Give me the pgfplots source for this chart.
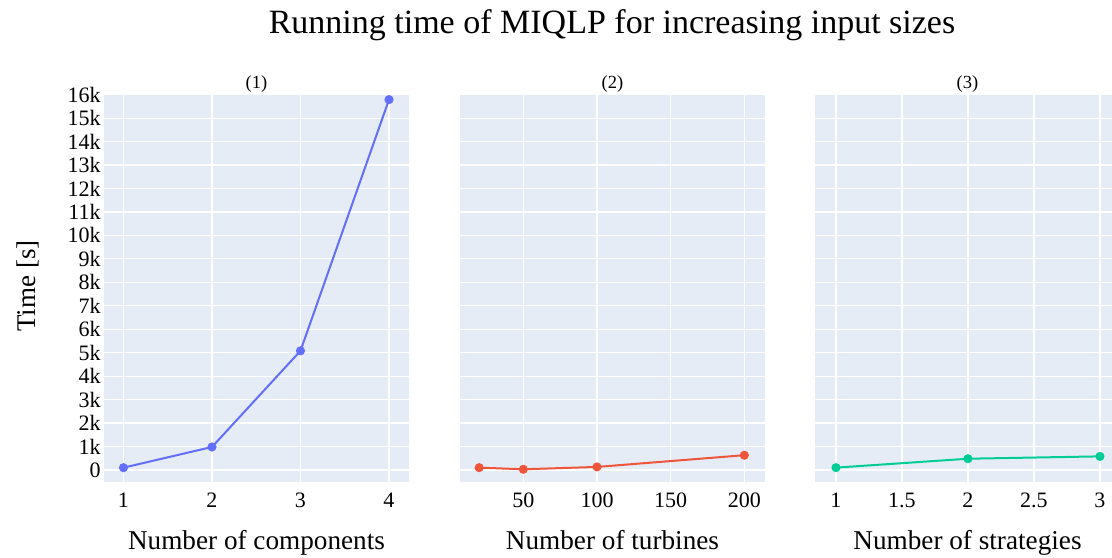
\documentclass[border=0pt]{standalone}
\usepackage{fontspec}
\setmainfont{Liberation Serif}
\usepackage{pgfplots}
\pgfplotsset{compat=1.18}
\definecolor{pbg}{HTML}{E5ECF6}
\definecolor{c1}{HTML}{636EFA}
\definecolor{c2}{HTML}{EF553B}
\definecolor{c3}{HTML}{00CC96}
\pgfplotsset{
 panel/.style={
  scale only axis, width=152.5pt, height=194.1pt,
  anchor=north west,
  ymin=-500, ymax=16050,
  scaled y ticks=false, scaled x ticks=false,
  /pgf/number format/assume math mode=true,
  axis background/.style={fill=pbg},
  axis line style={draw=none},
  major tick length=0pt,
  grid=major, grid style={white, line width=0.6pt},
  ytick={0,1000,...,16000},
  extra y ticks={0}, extra y tick labels={},
  extra y tick style={grid style={white, line width=1.1pt}},
  tick label style={font=\rmfamily\fontsize{11}{13}\selectfont},
  yticklabel style={anchor=east, inner sep=0pt, xshift=-1.5pt},
  xticklabel style={anchor=base, inner sep=0pt, yshift=-12.65pt},
  xlabel style={font=\rmfamily\fontsize{13.6}{16}\selectfont, at={(axis description cs:0.5,0)}, anchor=base, yshift=-34pt, inner sep=0pt},
  title style={font=\rmfamily\fontsize{9.25}{11}\selectfont, at={(axis description cs:0.5,1)}, anchor=base, yshift=-3.7pt, inner sep=0pt},
  clip mode=individual,
 },
 ser/.style={line width=1pt, mark=*, mark size=1.75pt, color=#1, mark options={fill=#1, draw=#1}},
}
\begin{document}
\begin{tikzpicture}
\path[use as bounding box] (0,0) rectangle (556pt,-278.5pt);
\clip (0,0) rectangle (556pt,-278.5pt);
\node[anchor=base, font=\rmfamily\fontsize{17}{20}\selectfont] at (306pt,-16.75pt) {Running time of MIQLP for increasing input sizes};
\node[rotate=90, anchor=base, font=\rmfamily\fontsize{13.5}{16}\selectfont] at (17.5pt,-143pt) {Time [s]};

\begin{axis}[panel, at={(52pt,-46.75pt)},
  xmin=0.78, xmax=4.226,
  xtick={1,2,3,4}, xticklabels={1,2,3,4},
  yticklabels={0,1k,2k,3k,4k,5k,6k,7k,8k,9k,10k,11k,12k,13k,14k,15k,16k},
  xlabel={Number of components}, title={(1)}]
\addplot[ser=c1] coordinates {(1,98) (2,980) (3,5080) (4,15790)};
\end{axis}

\begin{axis}[panel, at={(230pt,-46.75pt)},
  xmin=7, xmax=214.05,
  xtick={50,100,150,200}, xticklabels={50,100,150,200},
  yticklabels={},
  xlabel={Number of turbines}, title={(2)}]
\addplot[ser=c2] coordinates {(20,100) (50,30) (100,130) (200,630)};
\end{axis}

\begin{axis}[panel, at={(407.5pt,-46.75pt)},
  xmin=0.841, xmax=3.152,
  xtick={1,1.5,2,2.5,3}, xticklabels={1,1.5,2,2.5,3},
  yticklabels={},
  xlabel={Number of strategies}, title={(3)}]
\addplot[ser=c3] coordinates {(1,100) (2,480) (3,580)};
\end{axis}
\end{tikzpicture}
\end{document}
